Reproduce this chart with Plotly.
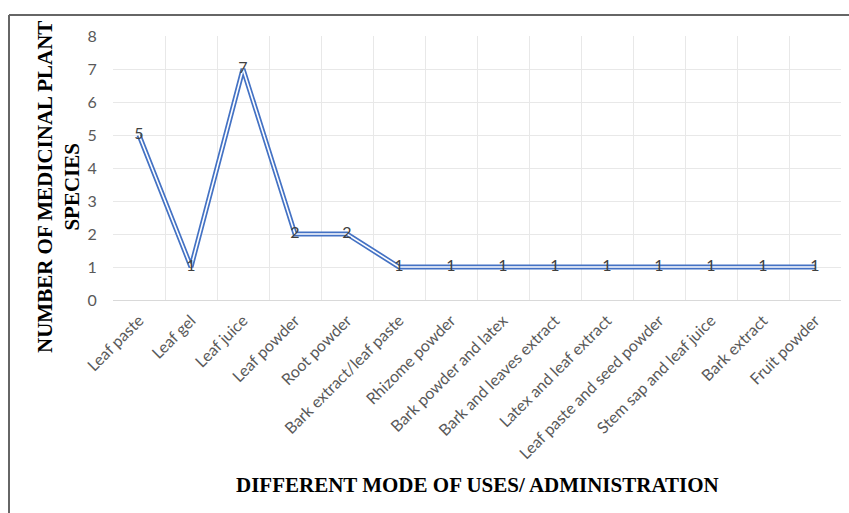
import plotly.graph_objects as go

categories = ["Leaf paste", "Leaf gel", "Leaf juice", "Leaf powder", "Root powder",
              "Bark extract/leaf paste", "Rhizome powder", "Bark powder and latex",
              "Bark and leaves extract", "Latex and leaf extract",
              "Leaf paste and seed powder", "Stem sap and leaf juice",
              "Bark extract", "Fruit powder"]
species_counts = [5, 1, 7, 2, 2, 1, 1, 1, 1, 1, 1, 1, 1, 1]
y_ticks = [0, 1, 2, 3, 4, 5, 6, 7, 8]

W, H = 849, 513
L, R, T, B = 113, 8, 36, 213
pw, ph = W - L - R, H - T - B

def px_x(x):
    return (x - L) / pw

def px_y(y):
    return (H - B - y) / ph

xs = list(range(len(categories)))
blue = "#4472C4"

fig = go.Figure()
fig.add_trace(go.Scatter(x=xs, y=species_counts, mode="lines",
                         line=dict(color=blue, width=5), hoverinfo="skip",
                         showlegend=False))
fig.add_trace(go.Scatter(x=xs, y=species_counts, mode="lines+text",
                         line=dict(color="white", width=1.6),
                         text=[str(v) for v in species_counts],
                         textposition="middle center",
                         textfont=dict(family="Lato", size=16, color="#404040"),
                         showlegend=False))

grid = "#E8E8E8"
fig.update_layout(
    width=W, height=H,
    margin=dict(l=L, r=R, t=T, b=B),
    paper_bgcolor="white", plot_bgcolor="white",
    xaxis=dict(range=[-0.5, len(categories) - 0.5], tickmode="array",
               tickvals=xs, ticktext=categories, tickangle=-45,
               showgrid=False, zeroline=False,
               showline=True, linecolor="#D9D9D9", linewidth=1,
               tickfont=dict(family="Lato", size=16, color="#595959"),
               ticks="outside", ticklen=4, tickcolor="rgba(0,0,0,0)",
               minor=dict(tick0=-0.5, dtick=1, showgrid=True, gridcolor=grid,
                          gridwidth=1, ticks="")),
    yaxis=dict(range=[0, 8], tickvals=y_ticks, showgrid=True, gridcolor=grid,
               zeroline=False, showline=False,
               tickfont=dict(family="Lato", size=16, color="#595959"),
               ticks="outside", ticklen=12, tickcolor="rgba(0,0,0,0)"),
    annotations=[
        dict(text="<b>DIFFERENT MODE OF USES/ ADMINISTRATION</b>",
             xref="paper", yref="paper", x=px_x(477), y=px_y(485),
             showarrow=False, xanchor="center", yanchor="middle",
             font=dict(family="Liberation Serif", size=21, color="black")),
        dict(text="<b>NUMBER OF MEDICINAL PLANT<br>SPECIES</b>",
             xref="paper", yref="paper", x=px_x(58), y=px_y(187),
             showarrow=False, xanchor="center", yanchor="middle", textangle=-90,
             font=dict(family="Liberation Serif", size=21, color="black")),
    ],
    shapes=[
        dict(type="line", xref="paper", yref="paper",
             x0=px_x(9), x1=px_x(849), y0=px_y(15), y1=px_y(15),
             line=dict(color="#666666", width=2)),
        dict(type="line", xref="paper", yref="paper",
             x0=px_x(9), x1=px_x(9), y0=px_y(15), y1=px_y(513),
             line=dict(color="#666666", width=2)),
    ],
)

fig.write_html("out.html")
